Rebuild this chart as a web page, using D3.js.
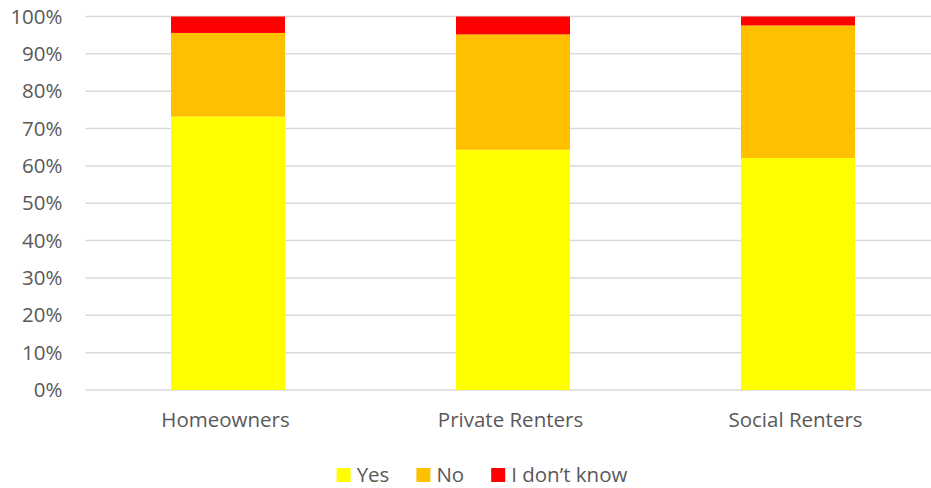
<!DOCTYPE html>
<html>
<head>
<meta charset="utf-8">
<script src="https://cdn.jsdelivr.net/npm/d3@7"></script>
<style>
  html, body { margin: 0; padding: 0; background: #fff; }
  svg text { font-family: "Open Sans", sans-serif; fill: #595959; }
</style>
</head>
<body>
<svg id="chart" width="931" height="488"></svg>
<script>
// Survey answers by tenure (shares of respondents)
const categories = ["Homeowners", "Private Renters", "Social Renters"];
const seriesNames = ["Yes", "No", "I don\u2019t know"];
const yesValues = [0.732, 0.643, 0.621];
const noValues = [0.224, 0.309, 0.355];
const dontKnowValues = [0.044, 0.048, 0.024];
const tickValues = [0, 0.1, 0.2, 0.3, 0.4, 0.5, 0.6, 0.7, 0.8, 0.9, 1.0];
const colors = ["#FFFF00", "#FFC000", "#FF0000"];

const rows = categories.map((c, i) => ({
  category: c,
  "Yes": yesValues[i],
  "No": noValues[i],
  "I don\u2019t know": dontKnowValues[i]
}));

const FONT = "'Open Sans', sans-serif";
const FS = "20.5px";

const svg = d3.select("#chart");
const margin = { left: 85.5, top: 16.5, bottom: 390 };

const x = d3.scaleBand()
  .domain(categories)
  .range([margin.left, margin.left + 855])
  .paddingInner(0.6)
  .paddingOuter(0.3);

const y = d3.scaleLinear()
  .domain([0, 1])
  .range([margin.bottom, margin.top]);

// horizontal gridlines
svg.append("g")
  .selectAll("line")
  .data(tickValues)
  .join("line")
  .attr("x1", margin.left)
  .attr("x2", 931)
  .attr("y1", d => y(d))
  .attr("y2", d => y(d))
  .attr("stroke", "#d9d9d9")
  .attr("stroke-width", 1.5);

// y axis labels
const yAxis = d3.axisLeft(y)
  .tickValues(tickValues)
  .tickFormat(d3.format(".0%"))
  .tickSize(0)
  .tickPadding(23);
const gy = svg.append("g")
  .attr("transform", `translate(${margin.left},0)`)
  .call(yAxis);
gy.select(".domain").remove();
gy.selectAll("text")
  .style("font-size", FS)
  .style("font-family", FONT)
  .attr("fill", "#595959");

// stacked bars
const stack = d3.stack().keys(seriesNames);
const layers = stack(rows);

svg.append("g")
  .selectAll("g")
  .data(layers)
  .join("g")
  .attr("fill", (d, i) => colors[i])
  .selectAll("rect")
  .data(d => d)
  .join("rect")
  .attr("x", d => x(d.data.category))
  .attr("width", x.bandwidth())
  .attr("y", d => y(d[1]))
  .attr("height", d => y(d[0]) - y(d[1]));

// category axis
const xAxis = d3.axisBottom(x).tickSize(0).tickPadding(22);
const gx = svg.append("g")
  .attr("transform", `translate(-2.5,${margin.bottom})`)
  .call(xAxis);
gx.select(".domain").remove();
gx.selectAll("text")
  .style("font-size", FS)
  .style("font-family", FONT)
  .attr("fill", "#595959");

// legend
const legend = svg.append("g");
const items = legend.selectAll("g")
  .data(seriesNames)
  .join("g");
items.append("rect")
  .attr("width", 14)
  .attr("height", 14)
  .attr("y", -7)
  .attr("fill", (d, i) => colors[i]);
items.append("text")
  .attr("x", 20)
  .attr("dy", "0.35em")
  .style("font-size", FS)
  .style("font-family", FONT)
  .text(d => d);

let offset = 0;
items.each(function () {
  const g = d3.select(this);
  const w = 20 + g.select("text").node().getComputedTextLength();
  g.attr("transform", `translate(${offset},0)`);
  offset += w + 27;
});
const total = offset - 27;
legend.attr("transform", `translate(${482 - total / 2},475)`);
</script>
</body>
</html>
